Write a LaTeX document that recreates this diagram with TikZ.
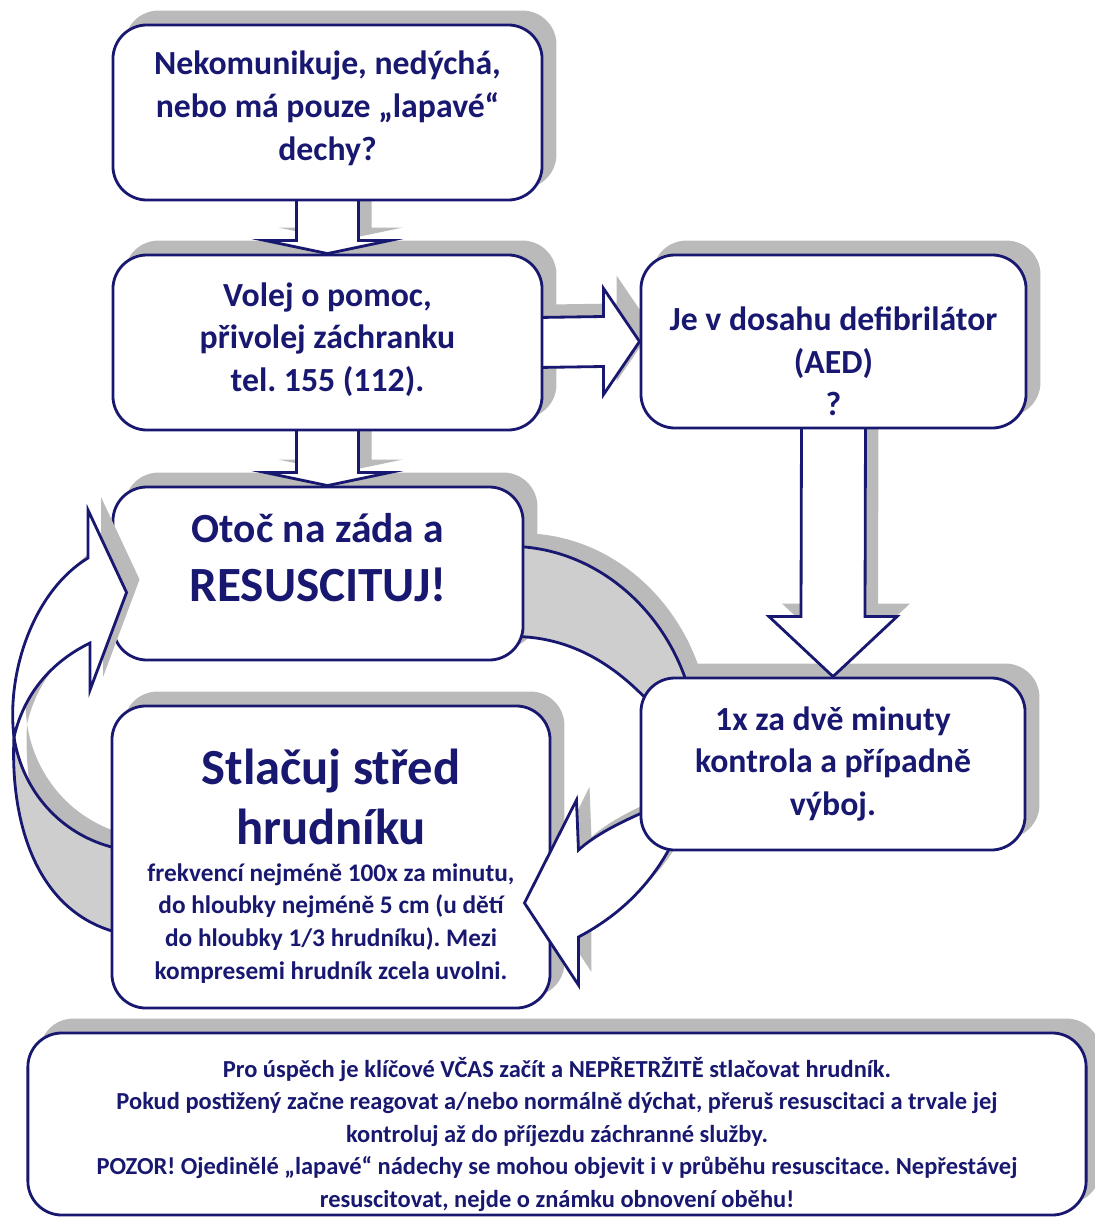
\documentclass[tikz,border=0pt]{standalone}
\usepackage{fontspec}
\setmainfont{Carlito}
\usetikzlibrary{calc,shadows}

\definecolor{navy}{RGB}{24,24,112}
\definecolor{shadowc}{RGB}{186,186,186}
\definecolor{backc}{RGB}{206,206,206}

\pgfdeclarelayer{shadow}
\pgfdeclarelayer{back}
\pgfdeclarelayer{front}
\pgfdeclarelayer{top}
\pgfsetlayers{shadow,back,main,front,top}

\tikzset{
  box/.style={draw=navy, line width=2pt, fill=white, rounded corners=0.85cm,
    inner sep=0pt, align=flush center, text=navy,
    font=\bfseries\fontsize{24}{30}\selectfont},
  boxshadow/.style={fill=shadowc, rounded corners=0.85cm},
  blockarrow/.style={draw=navy, line width=2pt, fill=white, line join=miter,
    drop shadow={shadow xshift=0.325cm, shadow yshift=0.325cm, fill=shadowc, opacity=1}},
  bandback/.style={blockarrow, fill=backc}
}

\newcommand{\liftby}[1]{\par\nointerlineskip\vspace*{#1}\hbox{}}

\begin{document}
\frenchspacing
\begin{tikzpicture}[x=0.025cm, y=-0.025cm]
  \useasboundingbox (0,0) rectangle (1094,1223);

  % boxes
  \node[box, minimum width=10.725cm, minimum height=4.375cm, text width=10.2cm,
        font=\bfseries\fontsize{24}{30.8}\selectfont] (otazka) at (327.5,112.5)
    {Nekomunikuje, nedýchá,\\ nebo má pouze „lapavé“\\ dechy?\liftby{6pt}};
  \node[box, minimum width=10.725cm, minimum height=4.375cm, text width=10.2cm] (volej) at (327.5,342.5)
    {Volej o pomoc,\\ přivolej záchranku\\ tel. 155 (112).\liftby{4pt}};
  \node[box, minimum width=9.625cm, minimum height=4.325cm, text width=9.2cm] (aed) at (833.5,341.5)
    {\rule{0pt}{45pt}Je v dosahu defibrilátor\\ (AED)\\ ?};
  \node[box, minimum width=10.25cm, minimum height=4.325cm, text width=9.8cm] (resusc) at (318,573.5)
    {{\fontsize{29.5}{36}\selectfont Otoč na záda a\par}
     \vspace{3pt}{\fontsize{35}{39}\selectfont RESUSCITUJ!\par}\liftby{23pt}};
  \node[box, minimum width=10.95cm, minimum height=7.55cm, text width=10.5cm] (stlacuj) at (331,857)
    {{\fontsize{36}{42.7}\selectfont\rule{0pt}{38pt}Stlačuj střed\\ hrudníku\par}
     {\fontsize{18}{23.3}\selectfont\vspace{3pt}frekvencí nejméně 100x za minutu,\\
      do hloubky nejméně 5 cm (u dětí\\ do hloubky 1/3 hrudníku). Mezi\\
      kompresemi hrudník zcela uvolni.\par}};
  \node[box, minimum width=26.45cm, minimum height=4.55cm, text width=26cm,
        font=\bfseries\fontsize{17.4}{23.1}\selectfont] (zaver) at (557,1124)
    {\rule{0pt}{29pt}Pro úspěch je klíčové VČAS začít a NEPŘETRŽITĚ stlačovat hrudník.\\
     Pokud postižený začne reagovat a/nebo normálně dýchat, přeruš resuscitaci a trvale jej\\
     kontroluj až do příjezdu záchranné služby.\\
     POZOR! Ojedinělé „lapavé“ nádechy se mohou objevit i v průběhu resuscitace. Nepřestávej\\
     resuscitovat, nejde o známku obnovení oběhu!};
  \begin{pgfonlayer}{top}
    \node[box, minimum width=9.6cm, minimum height=4.3cm, text width=9.2cm] (kontrola) at (833,764)
      {1x za dvě minuty\\ kontrola a případně\\ výboj.};
  \end{pgfonlayer}

  % shadows of the boxes
  \begin{pgfonlayer}{shadow}
    \foreach \bx in {otazka,volej,aed,resusc,stlacuj,kontrola,zaver}
      \fill[boxshadow] ([shift={(13,-13)}]\bx.south west) rectangle ([shift={(13,-13)}]\bx.north east);
  \end{pgfonlayer}

  \begin{pgfonlayer}{back}
    % back side of the loops
    \draw[bandback] ($(resusc.north east)+(-5,61)$) .. controls +(82,5) and +(-22,-75) .. ($(kontrola.north west)+(49,12)$)
      -- ($(kontrola.north west)+(11,27)$) .. controls +(-37,-40) and +(52,2) .. ($(resusc.north east)+(-5,151)$) -- cycle;
    \draw[bandback] (14,737) .. controls (10,820) and (35,910) .. ($(stlacuj.west)+(5,75)$)
      -- ($(stlacuj.west)+(5,-9)$) .. controls (60,835) and (22,790) .. (14,737) -- cycle;

    % straight arrows
    \draw[blockarrow] ($(otazka.south)+(-31,-6)$) -- ($(volej.north)+(-31,-13)$) -- ($(volej.north)+(-62,-13)$)
      -- (volej.north) -- ($(volej.north)+(62,-13)$) -- ($(volej.north)+(31,-13)$) -- ($(otazka.south)+(31,-6)$) -- cycle;
    \draw[blockarrow] ($(volej.south)+(-31,-6)$) -- ($(volej.south |- resusc.north)+(-31,-13)$)
      -- ($(volej.south |- resusc.north)+(-62,-13)$) -- (volej.south |- resusc.north)
      -- ($(volej.south |- resusc.north)+(62,-13)$) -- ($(volej.south |- resusc.north)+(31,-13)$)
      -- ($(volej.south)+(31,-6)$) -- cycle;
    \draw[blockarrow] ($(volej.east)+(-6,-25)$) -- ($(aed.west)+(-36,-25)$) -- ($(aed.west)+(-36,-53)$)
      -- (aed.west) -- ($(aed.west)+(-36,53)$) -- ($(aed.west)+(-36,25)$) -- ($(volej.east)+(-6,25)$) -- cycle;
    \draw[blockarrow] ($(aed.south)+(-32,-6)$) -- ($(kontrola.north)+(-32,-60)$) -- ($(kontrola.north)+(-64,-60)$)
      -- (kontrola.north) -- ($(kontrola.north)+(64,-60)$) -- ($(kontrola.north)+(32,-60)$) -- ($(aed.south)+(32,-6)$) -- cycle;
  \end{pgfonlayer}

  \begin{pgfonlayer}{front}
    % kontrola -> stlacuj
    \draw[blockarrow] ($(kontrola.west)+(14,44)$) .. controls (620,822) and (595,835) .. ($(stlacuj.east)+(27,-7)$)
      -- ($(stlacuj.east)+(25,-57)$) -- ($(stlacuj.east)+(-27,46)$) -- ($(stlacuj.east)+(27,128)$)
      -- ($(stlacuj.east)+(27,80)$) .. controls (620,915) and (650,885) .. ($(kontrola.south west)+(31,-5)$) -- cycle;
    % stlacuj -> resusc
    \draw[blockarrow] (14,737) .. controls (6,670) and (35,590) .. (88,558) -- (88,510)
      -- ($(resusc.west)+(15,19)$) -- (90,690) -- (90,643) .. controls (55,660) and (25,690) .. (14,737) -- cycle;
  \end{pgfonlayer}
\end{tikzpicture}
\end{document}
